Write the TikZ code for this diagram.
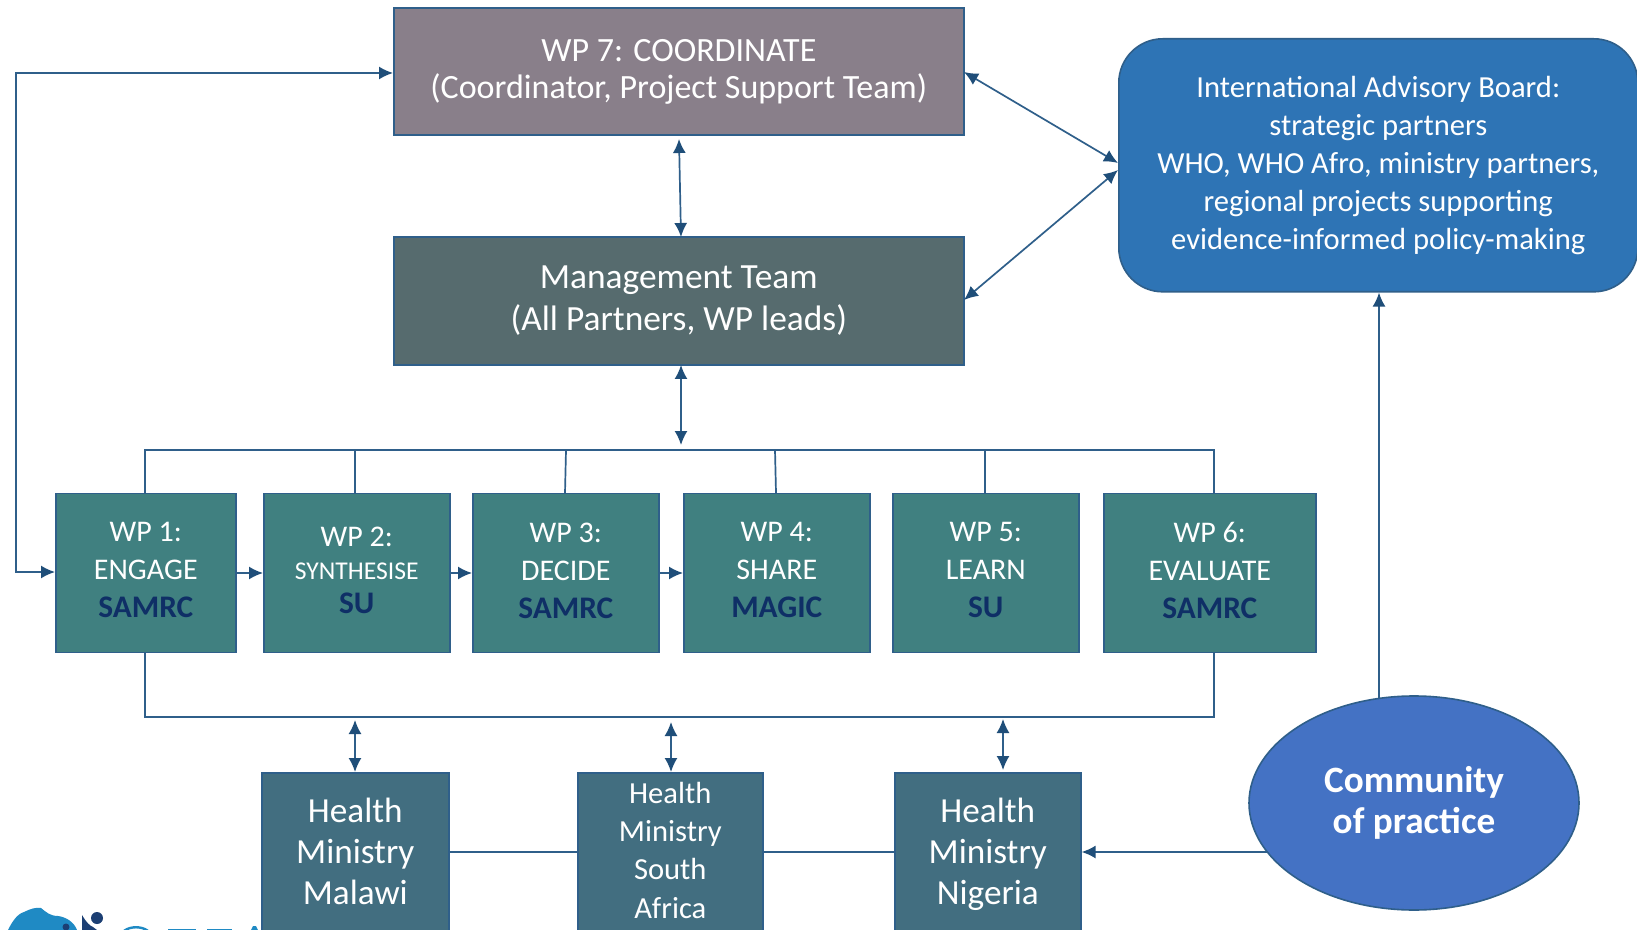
\documentclass[tikz,border=0pt]{standalone}
\usepackage{fontspec}
\setmainfont{Carlito}
\usetikzlibrary{arrows.meta,shapes.geometric}
\definecolor{linecol}{HTML}{2F5F8A}
\definecolor{arrowcol}{HTML}{1F4E79}
\definecolor{coordcol}{HTML}{897F8A}
\definecolor{mgmtcol}{HTML}{566B6E}
\definecolor{wpcol}{HTML}{408080}
\definecolor{healthcol}{HTML}{426E80}
\definecolor{boardcol}{HTML}{2E74B5}
\definecolor{commcol}{HTML}{4472C4}
\definecolor{leadcol}{HTML}{0F2F66}
\definecolor{logoblue}{HTML}{1F8AC4}
\definecolor{logodark}{HTML}{1C3F73}
\tikzset{
  box/.style={draw=linecol,line width=0.8pt,text=white,align=center,inner sep=0pt},
  wpbox/.style={box,fill=wpcol,font=\fontsize{15}{19}\selectfont,minimum height=79.5pt,anchor=north west},
  hbox/.style={box,fill=healthcol,anchor=north west,font=\fontsize{17.6}{20.35}\selectfont},
  link/.style={draw=linecol,line width=0.85pt},
  arr/.style={link,-{Latex[length=7pt,width=6.5pt,color=arrowcol]}},
  dblarr/.style={link,{Latex[length=7pt,width=6.5pt,color=arrowcol]}-{Latex[length=7pt,width=6.5pt,color=arrowcol]}}
}
\newcommand{\lead}[1]{\textcolor{leadcol}{\fontsize{15.7}{19}\selectfont\textbf{#1}}\rule[-2.5pt]{0pt}{2.5pt}}
\newcommand{\hstrut}{\rule[-5pt]{0pt}{5pt}}
\begin{document}
\begin{tikzpicture}[x=0.5pt,y=-0.5pt]
\useasboundingbox (0,0) rectangle (1637,930);
\fill[white] (0,0) rectangle (1637,930);
\begin{scope}
\clip (0,0) rectangle (1637,930);
% logo fragment
\fill[logoblue] (8,930) .. controls (12,922) and (17,914) .. (24,912) .. controls (30,909) and (36,907) .. (41,908) .. controls (46,912) and (50,916) .. (58,916) .. controls (66,917) and (74,922) .. (77,930) -- cycle;
\fill[logodark] (97,918) circle (6);
\fill[logodark] (66,927) circle (3.5);
\fill[logodark] (82,915) .. controls (86,922) and (90,926) .. (93,927) -- (97,930) -- (82,930) -- cycle;
\draw[logoblue,line width=1.2pt] (124,931) .. controls (130,926) and (142,926) .. (148,931);
\fill[logoblue] (168,929) rectangle (196,930);
\fill[logoblue] (207,929) rectangle (232,930);
\fill[logoblue] (253,926) -- (256,926) -- (258,930) -- (251,930) -- cycle;
% boxes
\node[box,fill=coordcol,minimum width=285pt,minimum height=63.5pt,anchor=north west,font=\fontsize{17}{18.8}\selectfont] (wp7) at (393,7.5) {WP 7: COORDINATE\\(Coordinator, Project Support Team)};
\node[box,fill=mgmtcol,minimum width=285pt,minimum height=64pt,anchor=north west,font=\fontsize{17.7}{21}\selectfont] (mgmt) at (393,236) {Management Team\\(All Partners, WP leads)};
\node[box,fill=boardcol,minimum width=259.5pt,minimum height=126.5pt,anchor=north west,rounded corners=22pt,font=\fontsize{15.3}{19}\selectfont] (board) at (1118,38) {International Advisory Board:\\strategic partners\\WHO, WHO Afro, ministry partners,\\regional projects supporting\\evidence-informed policy-making};
\node[wpbox,minimum width=90pt] (wpa) at (55,492.5) {WP 1:\\ENGAGE\\\lead{SAMRC}};
\node[wpbox,minimum width=93pt] (wpb) at (263,492.5) {WP 2:\\[-2.8pt]{\fontsize{12.8}{19}\selectfont SYNTHESISE}\\[-1.8pt]\lead{SU}};
\node[wpbox,minimum width=93pt] (wpc) at (472,492.5) {WP 3:\\DECIDE\\\lead{SAMRC}};
\node[wpbox,minimum width=93pt] (wpd) at (683,492.5) {WP 4:\\SHARE\\\lead{MAGIC}};
\node[wpbox,minimum width=93pt] (wpe) at (892,492.5) {WP 5:\\LEARN\\\lead{SU}};
\node[wpbox,minimum width=106pt] (wpf) at (1103,492.5) {WP 6:\\EVALUATE\\\lead{SAMRC}};
\node[hbox,minimum width=93.5pt,minimum height=83.4pt] (hm) at (261,772) {Health\\Ministry\\Malawi\hstrut};
\node[hbox,minimum width=92.5pt,minimum height=82.4pt,font=\fontsize{15.3}{19.15}\selectfont] (hs) at (577,772) {Health\\Ministry\\South\\Africa\hstrut};
\node[hbox,minimum width=93pt,minimum height=83.4pt] (hn) at (894,772) {Health\\Ministry\\Nigeria\hstrut};
\node[ellipse,draw=linecol,line width=0.8pt,fill=commcol,text=white,align=center,minimum width=165pt,minimum height=107pt,inner sep=0pt,font=\bfseries\fontsize{18.6}{20.2}\selectfont] (comm) at (1414,803) {Community\\of practice};
% named junctions
\coordinate (feedl) at (16,73);
\coordinate (feedb) at (16,572);
\coordinate (bustl) at (145,450);
\coordinate (bustr) at (1214,450);
\coordinate (busbl) at (145,717);
\coordinate (busbr) at (1214,717);
\coordinate (w7t) at (393,73);
\coordinate (w1l) at (55,572);
\coordinate (b1) at (1118,163);
\coordinate (b2) at (1118,170);
\coordinate (m1) at (964,72);
\coordinate (m2) at (964,300);
% connectors
\draw[dblarr] (w7t) -- (feedl) -- (feedb) -- (w1l);
\draw[dblarr] (679,139) -- (681,237);
\draw[dblarr] (681,365) -- (681,445);
\draw[dblarr] (m1) -- (b1);
\draw[dblarr] (m2) -- (b2);
\draw[link] (wpa.north -| bustl) -- (bustl) -- (bustr) -- (wpf.north -| bustr);
\draw[link] (355,450) -- (355,493);
\draw[link] (566,450) -- (565,493);
\draw[link] (775,450) -- (776,493);
\draw[link] (985,450) -- (985,493);
\draw[link] (wpa.south -| busbl) -- (busbl) -- (busbr) -- (wpf.south -| busbr);
\draw[arr] (wpa.east |- 0,573) -- (wpb.west |- 0,573);
\draw[arr] (wpb.east |- 0,573) -- (wpc.west |- 0,573);
\draw[arr] (wpc.east |- 0,573) -- (wpd.west |- 0,573);
\draw[dblarr] (355,720) -- (355,772);
\draw[dblarr] (671,722) -- (671,772);
\draw[dblarr] (1003,719) -- (1003,770);
\draw[link] (hm.east |- 0,852) -- (hs.west |- 0,852);
\draw[link] (hs.east |- 0,852) -- (hn.west |- 0,852);
\draw[arr] (comm.north -| 1379,0) ++(0,3) -- (board.south -| 1379,0);
\draw[arr] (1268,852) -- (hn.east |- 0,852);
\end{scope}
\end{tikzpicture}
\end{document}
